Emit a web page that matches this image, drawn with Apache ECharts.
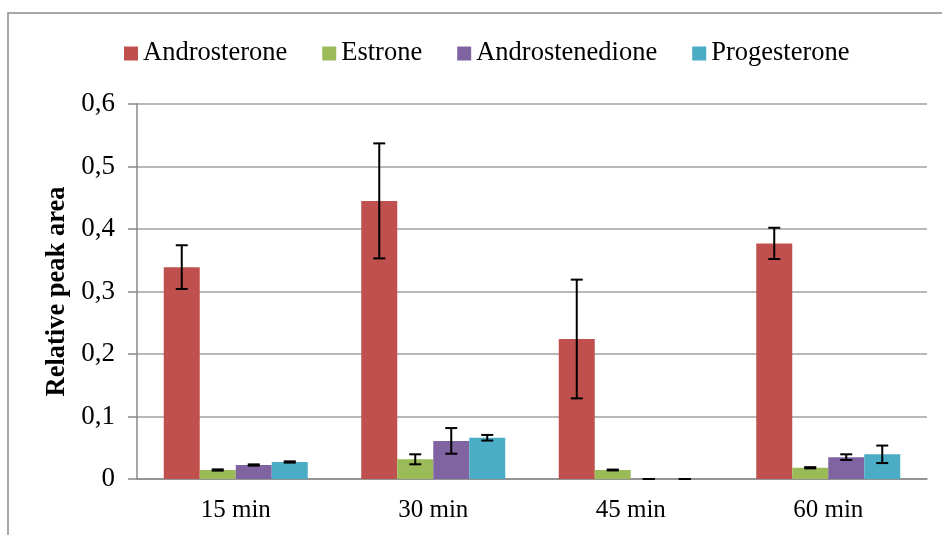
<!DOCTYPE html>
<html>
<head>
<meta charset="utf-8">
<script src="https://cdn.jsdelivr.net/npm/echarts@6/dist/echarts.min.js"></script>
<style>
  html, body { margin: 0; padding: 0; background: #fff; }
  #chart { width: 942px; height: 535px; }
</style>
</head>
<body>
<div id="chart"></div>
<script>
// data
const categories = ['15 min', '30 min', '45 min', '60 min'];
const seriesNames = ['Androsterone', 'Estrone', 'Androstenedione', 'Progesterone'];
const androsterone = [0.339, 0.445, 0.224, 0.377];
const androsteroneErr = [0.035, 0.092, 0.095, 0.025];
const estrone = [0.0144, 0.0315, 0.0144, 0.018];
const estroneErr = [0.001, 0.008, 0.0007, 0.001];
const androstenedione = [0.0224, 0.061, 0, 0.035];
const androstenedioneErr = [0.001, 0.0205, 0, 0.0045];
const progesterone = [0.0272, 0.066, 0, 0.0395];
const progesteroneErr = [0.001, 0.0045, 0, 0.014];
const yTicks = [0, 0.1, 0.2, 0.3, 0.4, 0.5, 0.6];

const colors = ['#C0504D', '#9BBB59', '#8064A2', '#4BACC6'];
const values = [androsterone, estrone, androstenedione, progesterone];
const errors = [androsteroneErr, estroneErr, androstenedioneErr, progesteroneErr];
const BAR_W = 36;
const FONT = '"Liberation Serif", "Times New Roman", serif';

const chart = echarts.init(document.getElementById('chart'), null, { renderer: 'canvas' });

const barSeries = values.map((vals, i) => ({
  name: seriesNames[i],
  type: 'bar',
  data: vals,
  barWidth: BAR_W,
  barGap: '0%',
  itemStyle: { color: colors[i] },
}));

// error bars drawn as custom series, shifted to sit on each bar centre
const errSeries = values.map((vals, i) => ({
  type: 'custom',
  z: 10,
  silent: true,
  data: vals.map((v, k) => [k, v, errors[i][k]]),
  encode: { x: 0, y: 1 },
  renderItem: (params, api) => {
    const k = api.value(0), v = api.value(1), e = api.value(2);
    const hi = api.coord([k, v + e]);
    const lo = api.coord([k, v - e]);
    const x = hi[0] + (i - 1.5) * BAR_W;
    const st = { stroke: '#000', lineWidth: 2 };
    return {
      type: 'group',
      children: [
        { type: 'line', shape: { x1: x, y1: hi[1], x2: x, y2: lo[1] }, style: st },
        { type: 'line', shape: { x1: x - 6, y1: hi[1], x2: x + 6, y2: hi[1] }, style: st },
        { type: 'line', shape: { x1: x - 6, y1: lo[1], x2: x + 6, y2: lo[1] }, style: st },
      ],
    };
  },
}));

chart.setOption({
  animation: false,
  backgroundColor: '#fff',
  textStyle: { fontFamily: FONT },
  graphic: [{
    type: 'rect',
    shape: { x: 8, y: 13, width: 950, height: 540 },
    style: { fill: 'none', stroke: '#8c8c8c', lineWidth: 1.5 },
    silent: true,
  }],
  legend: {
    data: seriesNames,
    left: 119,
    top: 35,
    itemWidth: 14,
    itemHeight: 14,
    itemGap: 35,
    icon: 'rect',
    textStyle: { fontFamily: FONT, fontSize: 26.5, color: '#000' },
  },
  grid: { left: 137, right: 15, top: 104, bottom: 56 },
  xAxis: {
    type: 'category',
    data: categories,
    axisTick: { show: false },
    axisLine: { lineStyle: { color: '#888', width: 1.5 } },
    axisLabel: { fontFamily: FONT, fontSize: 25, color: '#000', margin: 19 },
  },
  yAxis: {
    type: 'value',
    min: 0,
    max: 0.6,
    interval: 0.1,
    name: 'Relative peak area',
    nameLocation: 'middle',
    nameGap: 64,
    nameTextStyle: { fontFamily: FONT, fontSize: 26.5, fontWeight: 'bold', color: '#000' },
    axisLine: { show: true, lineStyle: { color: '#888', width: 1.5 } },
    axisTick: { show: true, length: 9, lineStyle: { color: '#888', width: 1.5 } },
    splitLine: { lineStyle: { color: '#a0a0a0', width: 1.5 } },
    axisLabel: {
      fontFamily: FONT,
      fontSize: 27,
      color: '#000',
      margin: 22,
      formatter: (v) => {
        const t = yTicks.find((y) => Math.abs(y - v) < 1e-9);
        return String(+(t ?? v).toFixed(1)).replace('.', ',');
      },
    },
  },
  series: [...barSeries, ...errSeries],
});
</script>
</body>
</html>
